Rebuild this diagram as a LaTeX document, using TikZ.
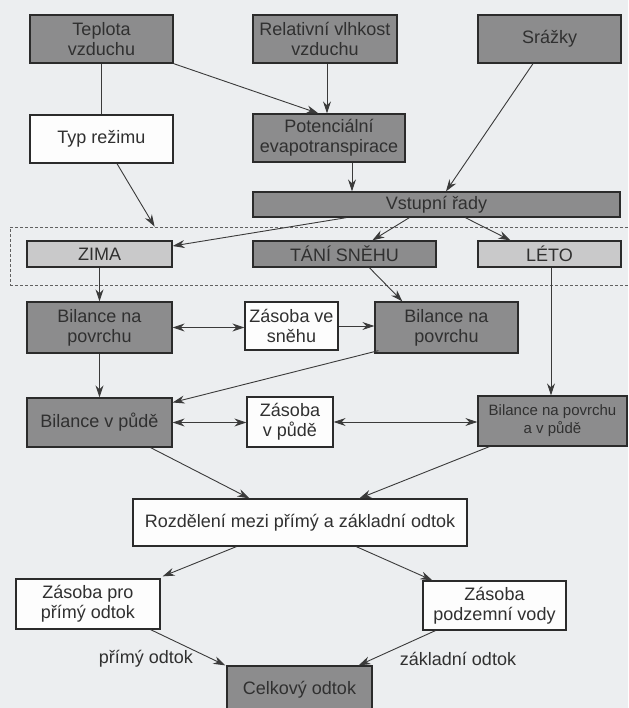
\documentclass[tikz,border=0pt]{standalone}
\usepackage{fontspec}
\setmainfont{Liberation Sans}
\usetikzlibrary{arrows.meta,calc}
\definecolor{bgcol}{HTML}{ECEEF0}
\definecolor{darkfill}{HTML}{8C8C8D}
\definecolor{lightfill}{HTML}{C9C9CA}
\definecolor{whitefill}{HTML}{FDFDFD}
\definecolor{bordercol}{HTML}{2B2B2B}
\definecolor{textcol}{HTML}{303030}
\definecolor{linecol}{HTML}{3A3A3A}
\newcommand{\fsz}{\fontsize{18}{20}\selectfont}
\newcommand{\fsm}{\fontsize{15}{18}\selectfont}
\tikzset{
  box/.style={draw=bordercol, line width=1.3pt, inner sep=1pt, align=center, font=\fsz, text=textcol},
  darkbox/.style={box, fill=darkfill},
  lightbox/.style={box, fill=lightfill},
  whitebox/.style={box, fill=whitefill},
  plainline/.style={draw=linecol, line width=0.9pt},
  arr/.style={plainline, -{Stealth[length=12pt,width=8pt]}},
  dbl/.style={plainline, {Stealth[length=12pt,width=8pt]}-{Stealth[length=12pt,width=8pt]}},
  lbl/.style={font=\fsz, text=textcol, inner sep=0pt},
  frame/.style={draw=linecol!80, dashed, dash pattern=on 3pt off 2pt, line width=0.8pt, inner sep=0pt}
}
\begin{document}
\begin{tikzpicture}[x=1pt,y=-1pt]
\fill[bgcol] (0,0) rectangle (628,708);
\useasboundingbox (0,0) rectangle (628,708);

% dashed season frame
\node[frame, minimum width=620pt, minimum height=58pt] (frm) at (320,256) {};

% top row
\node[darkbox, minimum width=143pt, minimum height=48pt] (tep) at (101.5,39) {Teplota\\vzduchu};
\node[darkbox, minimum width=144pt, minimum height=48pt] (rel) at (325,39) {Relativní vlhkost\\vzduchu};
\node[darkbox, minimum width=143pt, minimum height=48pt] (sra) at (549.5,39) {Srážky};

% second row
\node[whitebox, minimum width=143pt, minimum height=48pt] (typ) at (101.5,139) {Typ režimu};
\node[darkbox, minimum width=152pt, minimum height=48pt] (pot) at (329,138) {Potenciální\\evapotranspirace};

% input series
\node[darkbox, minimum width=367pt, minimum height=25pt] (vst) at (436.5,204.5) {Vstupní řady};

% seasons
\node[lightbox, minimum width=145pt, minimum height=26pt] (zima) at (99.5,254) {ZIMA};
\node[darkbox, minimum width=183pt, minimum height=26pt] (tani) at (344.5,254) {TÁNÍ SNĚHU};
\node[lightbox, minimum width=143pt, minimum height=26pt] (leto) at (549.5,254) {LÉTO};

% surface balance row
\node[darkbox, minimum width=145pt, minimum height=51pt] (bp1) at (99.5,327.5) {Bilance na\\povrchu};
\node[whitebox, minimum width=93pt, minimum height=48pt] (zsn) at (291.5,326) {Zásoba ve\\sněhu};
\node[darkbox, minimum width=143pt, minimum height=51pt] (bp2) at (446.5,327.5) {Bilance na\\povrchu};

% soil balance row
\node[darkbox, minimum width=145pt, minimum height=49pt] (bvp) at (99.5,422.5) {Bilance v půdě};
\node[whitebox, minimum width=86pt, minimum height=50pt] (zvp) at (290,422) {Zásoba\\v půdě};
\node[darkbox, minimum width=149pt, minimum height=50pt, font=\fsm] (bpv) at (552.5,421) {Bilance na povrchu\\a v půdě};

% split
\node[whitebox, minimum width=334pt, minimum height=47pt] (roz) at (300,522.5) {Rozdělení mezi přímý a základní odtok};

% storages
\node[whitebox, minimum width=144pt, minimum height=50pt] (zpo) at (88,604) {Zásoba pro\\přímý odtok};
\node[whitebox, minimum width=143pt, minimum height=49pt] (zpv) at (494.5,605.5) {Zásoba\\podzemní vody};

% total runoff
\node[darkbox, minimum width=145pt, minimum height=48pt] (cel) at (299.5,690) {Celkový odtok};

% edge labels
\node[lbl] (lp) at (146,659) {přímý odtok};
\node[lbl] (lz) at (458,659) {základní odtok};

% connectors
\draw[plainline] (tep.south) -- (typ.north);
\draw[arr] (tep.south east) -- ([xshift=66pt]pot.north west);
\draw[arr] ([xshift=2pt]rel.south) -- ([xshift=2pt]rel.south |- pot.north);
\draw[arr] ([xshift=23pt]pot.south) -- ([xshift=23pt]pot.south |- vst.north);
\draw[arr] ([xshift=-16.5pt]sra.south) -- ([xshift=9.5pt]vst.north);
\draw[arr] ([xshift=15.5pt]typ.south) -- ([xshift=145pt]frm.north west);
\draw[arr] ([xshift=94pt]vst.south west) -- ([yshift=8pt]zima.east);
\draw[arr] ([xshift=157pt]vst.south west) -- ([xshift=120pt]tani.north west);
\draw[arr] ([xshift=213pt]vst.south west) -- ([xshift=33pt]leto.north west);
\draw[arr] (zima.south) -- (bp1.north);
\draw[arr] ([xshift=117pt]tani.south west) -- ([xshift=28pt]bp2.north west);
\draw[dbl] (bp1.east) -- (bp1.east -| zsn.west);
\draw[arr] (zsn.east) -- (zsn.east -| bp2.west);
\draw[arr] ([xshift=1.5pt]leto.south) -- ([xshift=1.5pt]leto.south |- bpv.north);
\draw[arr] (bp1.south) -- (bvp.north);
\draw[arr] ([xshift=4pt,yshift=3pt]bp2.south west) -- ([yshift=20pt]bvp.east);
\draw[dbl] (bvp.east) -- (bvp.east -| zvp.west);
\draw[dbl] (zvp.east) -- (zvp.east -| bpv.west);
\draw[arr] ([xshift=-22pt]bvp.south east) -- ([xshift=117pt]roz.north west);
\draw[arr] ([xshift=12pt]bpv.south west) -- ([xshift=227pt]roz.north west);
\draw[arr] ([xshift=104pt]roz.south west) -- ([xshift=2pt,yshift=2pt]zpo.north east);
\draw[arr] ([xshift=224pt]roz.south west) -- ([xshift=10pt]zpv.north west);
\draw[arr] ([xshift=-10pt]zpo.south east) -- ([xshift=-1pt]cel.north west);
\draw[arr] ([xshift=13pt]zpv.south west) -- ([xshift=-14pt]cel.north east);
\end{tikzpicture}
\end{document}
